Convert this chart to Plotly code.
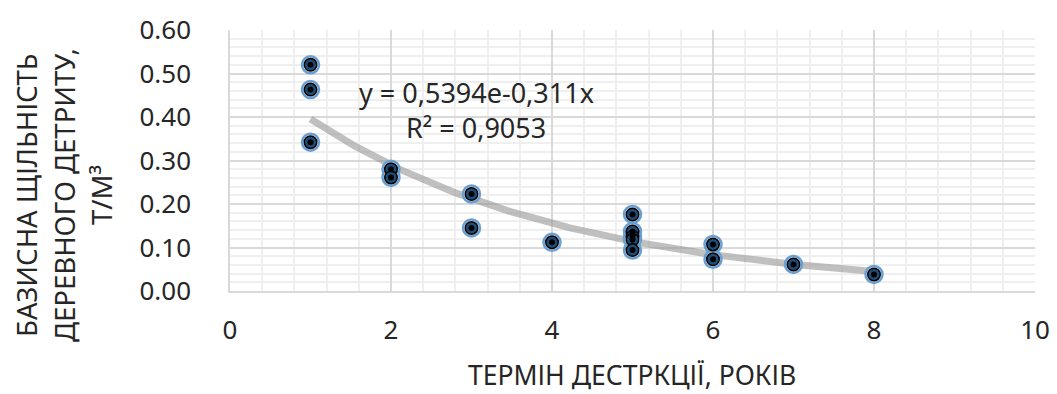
import numpy as np
import plotly.graph_objects as go

# Observed data (years of decomposition, basic density t/m3)
years = [1, 1, 1, 2, 2, 3, 3, 4, 5, 5, 5, 5, 5, 6, 6, 7, 8]
density = [0.520, 0.463, 0.342, 0.280, 0.261, 0.223, 0.145, 0.112,
           0.176, 0.137, 0.125, 0.118, 0.094, 0.107, 0.073, 0.061, 0.038]

# Exponential trendline coefficients (from the chart's equation)
trend_a = 0.5394
trend_b = -0.311
trend_x_start, trend_x_end = 1, 8

x_ticks = [0, 2, 4, 6, 8, 10]
y_ticks = [0.0, 0.1, 0.2, 0.3, 0.4, 0.5, 0.6]

y_title_lines = ["БАЗИСНА ЩІЛЬНІСТЬ", "ДЕРЕВНОГО ДЕТРИТУ,", "Т/М³"]
x_title = "ТЕРМІН ДЕСТРКЦІЇ, РОКІВ"
eq_lines = ["y = 0,5394e-0,311x", "R² = 0,9053"]

FONT = "Noto Sans"
TXT = "#262626"

# figure geometry (body margin removed via post_script)
W, H = 1057, 394
L, R, T, B = 230, 22, 30, 103
PW, PH = W - L - R, H - T - B


def px(X):
    return (X - L) / PW


def py(Y):
    return 1 - (Y - T) / PH


tx = np.linspace(trend_x_start, trend_x_end, 200)
ty = trend_a * np.exp(trend_b * tx)

fig = go.Figure()
fig.add_trace(go.Scatter(x=tx, y=ty, mode="lines",
                         line=dict(color="rgba(150,150,150,0.6)", width=7),
                         hoverinfo="skip", showlegend=False))
# layered marker: blue ring, navy disc, black centre
fig.add_trace(go.Scatter(x=years, y=density, mode="markers", showlegend=False,
                         marker=dict(size=17, color="white",
                                     line=dict(color="#6a9fd2", width=2.5))))
fig.add_trace(go.Scatter(x=years, y=density, mode="markers", showlegend=False,
                         marker=dict(size=12.5, color="#1f4e79",
                                     line=dict(color="black", width=1.5))))
fig.add_trace(go.Scatter(x=years, y=density, mode="markers", showlegend=False,
                         marker=dict(size=6, color="black")))

for txt, Y in zip(eq_lines, [92, 127]):
    fig.add_annotation(x=px(476), y=py(Y), xref="paper", yref="paper", text=txt,
                       showarrow=False, xanchor="center", yanchor="middle",
                       font=dict(family=FONT, size=27, color=TXT))

for txt, X in zip(y_title_lines, [26, 64, 101]):
    fig.add_annotation(x=px(X), y=py(195), xref="paper", yref="paper", textangle=-90,
                       text=txt, showarrow=False, xanchor="center", yanchor="middle",
                       borderpad=0, font=dict(family=FONT, size=27.5, color=TXT))

fig.add_annotation(x=px(632), y=py(375), xref="paper", yref="paper", text=x_title,
                   showarrow=False, xanchor="center", yanchor="middle", borderpad=0,
                   font=dict(family=FONT, size=26.5, color=TXT))

fig.update_xaxes(range=[0, 10], tickvals=x_ticks, ticktext=[str(v) for v in x_ticks],
                 showgrid=True, gridcolor="#d9d9d9", gridwidth=1.5,
                 minor=dict(dtick=0.4, tick0=0, showgrid=True, gridcolor="#efefef", gridwidth=2),
                 showline=True, linecolor="#d9d9d9", linewidth=1.5, zeroline=False,
                 ticks="", ticklabelstandoff=15, automargin=False,
                 tickfont=dict(family=FONT, size=26, color=TXT))
fig.update_yaxes(range=[0, 0.6], tickvals=y_ticks, ticktext=[f"{v:.2f}" for v in y_ticks],
                 showgrid=True, gridcolor="#d9d9d9", gridwidth=1.5,
                 minor=dict(dtick=0.02, tick0=0, showgrid=True, gridcolor="#efefef", gridwidth=2),
                 showline=True, linecolor="#d9d9d9", linewidth=1.5, zeroline=False,
                 ticks="", ticklabelstandoff=32, automargin=False,
                 tickfont=dict(family=FONT, size=26, color=TXT))

fig.update_layout(width=W, height=H, plot_bgcolor="white", paper_bgcolor="white",
                  margin=dict(l=L, r=R, t=T, b=B), showlegend=False)

fig.write_html("out.html", config={"displayModeBar": False},
               post_script="document.body.style.margin='0';document.body.style.overflow='hidden';")
